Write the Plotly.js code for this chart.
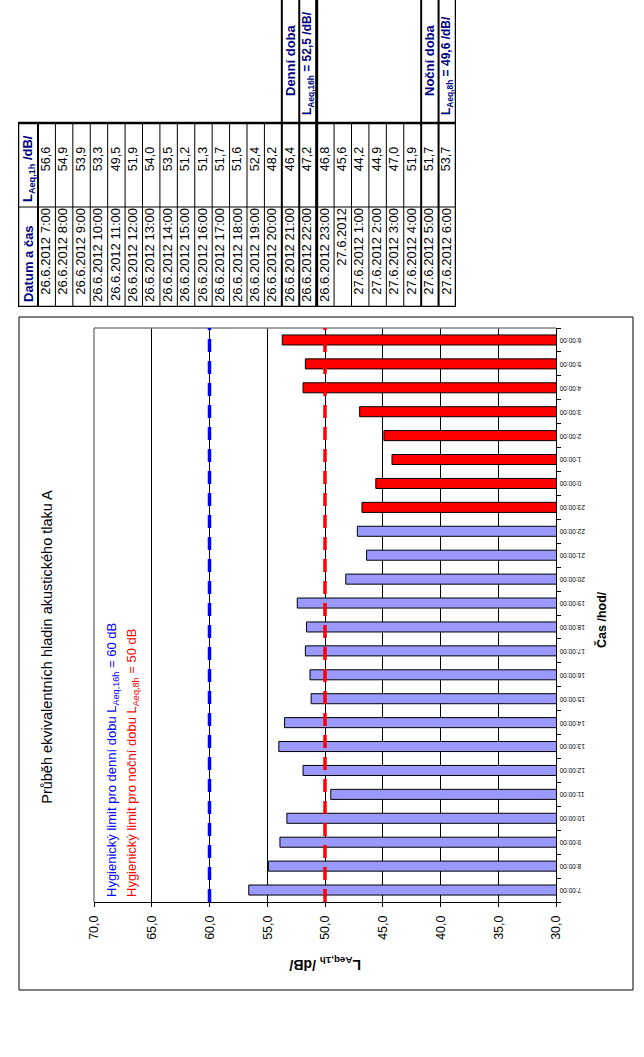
<!DOCTYPE html>
<html><head><meta charset="utf-8">
<script src="https://cdn.plot.ly/plotly-3.0.1.min.js"></script>
<style>
html,body{margin:0;padding:0;background:#fff;overflow:hidden;width:644px;height:1057px;}
#wrap{position:absolute;left:0;top:0;width:1057px;height:644px;transform-origin:0 0;transform:translate(0px,1057px) rotate(-90deg);}
#chart{width:1057px;height:644px;}
</style></head><body>
<div id="wrap"><div id="chart"></div></div>
<script>
// ---------- data ----------
const hourLabels = ["7:00:00","8:00:00","9:00:00","10:00:00","11:00:00","12:00:00","13:00:00","14:00:00",
  "15:00:00","16:00:00","17:00:00","18:00:00","19:00:00","20:00:00","21:00:00","22:00:00",
  "23:00:00","0:00:00","1:00:00","2:00:00","3:00:00","4:00:00","5:00:00","6:00:00"];
const dateLabels = ["26.6.2012 7:00","26.6.2012 8:00","26.6.2012 9:00","26.6.2012 10:00","26.6.2012 11:00",
  "26.6.2012 12:00","26.6.2012 13:00","26.6.2012 14:00","26.6.2012 15:00","26.6.2012 16:00",
  "26.6.2012 17:00","26.6.2012 18:00","26.6.2012 19:00","26.6.2012 20:00","26.6.2012 21:00",
  "26.6.2012 22:00","26.6.2012 23:00","27.6.2012","27.6.2012 1:00","27.6.2012 2:00",
  "27.6.2012 3:00","27.6.2012 4:00","27.6.2012 5:00","27.6.2012 6:00"];
const laeq1h = [56.6,54.9,53.9,53.3,49.5,51.9,54.0,53.5,51.2,51.3,51.7,51.6,52.4,48.2,46.4,47.2,
  46.8,45.6,44.2,44.9,47.0,51.9,51.7,53.7];
const period = ["D","D","D","D","D","D","D","D","D","D","D","D","D","D","D","D",
  "N","N","N","N","N","N","N","N"];
const periodNames = ["Denní doba","Noční doba"];
const periodSubs = ["Aeq,16h","Aeq,8h"];
const periodLeq = [52.5, 49.6];
const periodRows = [14, 22];           // table rows where the summary boxes sit
const limitValues = [60, 50];
const limitWords = ["denní","noční"];
const tableHeaders = ["Datum a čas","L<sub>Aeq,1h</sub> /dB/"];
const chartTitle = "Průběh ekvivalentních hladin akustického tlaku A";
const xTitle = "Čas /hod/";
const yTitle = "L<sub>Aeq,1h</sub> /dB/";

// ---------- styling / layout ----------
const W = 1057, H = 644;
const U = u => u / W, V = v => 1 - v / H;
const FONT = "Liberation Sans, Arial, sans-serif";
const NAVY = "#000080";
const periodColor = {D: "#9999FF", N: "#FF0000"};
const limitColor = ["#0000FF", "#FF0000"];
const fmt = v => v.toFixed(1).replace(".", ",");

const nRows = dateLabels.length;
const rowH = (456 - 38) / nRows;
const headerRows = 20 / rowH;
const tTop = -0.5 - headerRows, tBot = nRows - 0.5;
const cDate0 = 750, cDate1 = 850, cVal1 = 934, cEnd = 1057;

const traces = [
  {type: "bar", x: hourLabels, y: laeq1h, xaxis: "x", yaxis: "y",
   marker: {color: period.map(p => periodColor[p]), line: {color: "#000", width: 1}},
   hoverinfo: "skip", showlegend: false},
  {type: "scatter", mode: "text", xaxis: "x2", yaxis: "y2",
   x: dateLabels.map(() => cDate1 - 1), y: dateLabels.map((d, i) => i), text: dateLabels,
   textposition: "middle left", textfont: {family: FONT, size: 13, color: "#000"},
   cliponaxis: false, hoverinfo: "skip", showlegend: false},
  {type: "scatter", mode: "text", xaxis: "x2", yaxis: "y2",
   x: laeq1h.map(() => 898), y: laeq1h.map((d, i) => i), text: laeq1h.map(fmt),
   textposition: "middle center", textfont: {family: FONT, size: 12.5, color: "#000"},
   cliponaxis: false, hoverinfo: "skip", showlegend: false}
];

const shapes = [];
// chart border
shapes.push({type: "rect", xref: "paper", yref: "paper", x0: U(67), x1: U(740), y0: V(633), y1: V(19),
  line: {color: "#000", width: 1}, layer: "below"});
// grey plot frame (top / right)
shapes.push({type: "line", xref: "x domain", yref: "y domain", x0: 0, x1: 1, y0: 1, y1: 1,
  line: {color: "#808080", width: 1.5}, layer: "above"});
shapes.push({type: "line", xref: "x domain", yref: "y domain", x0: 1, x1: 1, y0: 0, y1: 1,
  line: {color: "#808080", width: 1.5}, layer: "above"});
// limit lines
limitValues.forEach((lv, k) => shapes.push({type: "line", xref: "x domain", yref: "y",
  x0: 0, x1: 1, y0: lv, y1: lv, line: {color: limitColor[k], width: 3.5, dash: "13px,9px"}, layer: "above"}));
// table grid
const thick = {13.5: 2, 14.5: 2, 15.5: 3, 21.5: 2, 22.5: 2};
const extended = {13.5: 1, 14.5: 1, 15.5: 1, 21.5: 1, 22.5: 1};
for (let i = 0; i < nRows - 1; i++) {
  const yb = i + 0.5;
  shapes.push({type: "line", xref: "x2", yref: "y2", x0: cDate0, x1: extended[yb] ? cEnd + 5 : cVal1,
    y0: yb, y1: yb, line: {color: "#000", width: thick[yb] || 1}});
}
shapes.push({type: "line", xref: "x2", yref: "y2", x0: cDate0, x1: cVal1, y0: -0.5, y1: -0.5,
  line: {color: "#000", width: 2}});
shapes.push({type: "line", xref: "x2", yref: "y2", x0: cDate1, x1: cDate1, y0: tTop, y1: tBot,
  line: {color: "#000", width: 1}});
shapes.push({type: "rect", xref: "x2", yref: "y2", x0: cDate0, x1: cVal1, y0: tTop, y1: tBot,
  line: {color: "#000", width: 2.5}});
shapes.push({type: "line", xref: "x2", yref: "y2", x0: cVal1, x1: cEnd + 5, y0: tBot, y1: tBot,
  line: {color: "#000", width: 2.5}});

const annotations = [];
const ann = o => annotations.push(Object.assign({showarrow: false, borderpad: 0}, o));
limitValues.forEach((lv, k) => ann({xref: "paper", yref: "paper", x: U(159), y: V(112 + 20 * k),
  text: "Hygienický limit pro " + limitWords[k] + " dobu L<sub>" + periodSubs[k] + "</sub> = " + lv + " dB",
  font: {family: FONT, size: 13, color: limitColor[k]}, xanchor: "left", yanchor: "middle"}));
ann({xref: "paper", yref: "paper", x: U(93), y: V(325), text: "<b>" + yTitle + "</b>", textangle: -90,
  font: {family: FONT, size: 14, color: "#000"}, xanchor: "center", yanchor: "middle"});
ann({xref: "paper", yref: "paper", x: U(437), y: V(601), text: "<b>" + xTitle + "</b>",
  font: {family: FONT, size: 12.5, color: "#000"}, xanchor: "center", yanchor: "middle"});
// table headers
ann({xref: "x2", yref: "y2", x: cDate0 + 4, y: -0.5 - headerRows / 2, text: "<b>" + tableHeaders[0] + "</b>",
  font: {family: FONT, size: 13, color: NAVY}, xanchor: "left", yanchor: "middle"});
ann({xref: "x2", yref: "y2", x: cDate1 + 4, y: -0.5 - headerRows / 2, text: "<b>" + tableHeaders[1] + "</b>",
  font: {family: FONT, size: 13, color: NAVY}, xanchor: "left", yanchor: "middle"});
periodNames.forEach((nm, k) => {
  ann({xref: "x2", yref: "y2", x: 960, y: periodRows[k], text: "<b>" + nm + "</b>",
    font: {family: FONT, size: 13, color: NAVY}, xanchor: "left", yanchor: "middle"});
  ann({xref: "x2", yref: "y2", x: 941, y: periodRows[k] + 1,
    text: "<b>L<sub>" + periodSubs[k] + "</sub> = " + fmt(periodLeq[k]) + " /dB/</b>",
    font: {family: FONT, size: 12, color: NAVY}, xanchor: "left", yanchor: "middle"});
});

const layout = {
  width: W, height: H, margin: {l: 0, r: 0, t: 0, b: 0, pad: 0},
  paper_bgcolor: "#fff", plot_bgcolor: "#fff", showlegend: false,
  title: {text: chartTitle, font: {family: FONT, size: 14.5, color: "#000"},
    xref: "paper", yref: "paper", x: U(410), y: V(47), xanchor: "center", yanchor: "middle"},
  separators: ", ", bargap: 0.58, font: {family: FONT, color: "#000"},
  xaxis: {domain: [U(155), U(729)], anchor: "y", type: "category", categoryorder: "array",
    categoryarray: hourLabels, showline: true, linecolor: "#000", linewidth: 1,
    ticks: "outside", ticklen: 4, tickcolor: "#000", tickson: "boundaries", tickangle: -90,
    tickfont: {family: FONT, size: 6.5, color: "#000"}, showgrid: false, zeroline: false, fixedrange: true},
  yaxis: {domain: [V(556), V(94)], anchor: "x", range: [30, 70], tick0: 30, dtick: 5, tickformat: ".1f",
    showgrid: true, gridcolor: "#000", gridwidth: 1, showline: true, linecolor: "#000", linewidth: 1,
    ticks: "outside", ticklen: 4, tickcolor: "#000", ticklabelstandoff: 6,
    tickfont: {family: FONT, size: 12.5, color: "#000"}, zeroline: false, fixedrange: true},
  xaxis2: {domain: [U(750), 1], anchor: "y2", range: [750, 1057], visible: false, fixedrange: true},
  yaxis2: {domain: [V(456), V(18)], anchor: "x2", range: [tBot, tTop], visible: false, fixedrange: true},
  shapes: shapes, annotations: annotations
};
Plotly.newPlot("chart", traces, layout, {staticPlot: true, displayModeBar: false});
</script></body></html>
